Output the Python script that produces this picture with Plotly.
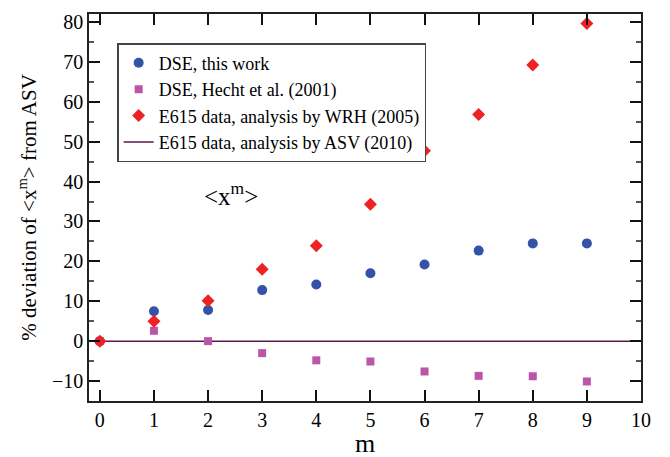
import plotly.graph_objects as go

m = [0, 1, 2, 3, 4, 5, 6, 7, 8, 9]
dse_this_work = [0.0, 7.5, 7.8, 12.8, 14.2, 17.0, 19.2, 22.7, 24.5, 24.5]
dse_hecht = [0.0, 2.6, 0.0, -3.0, -4.8, -5.1, -7.6, -8.7, -8.8, -10.1]
e615_wrh = [0.0, 5.0, 10.1, 18.0, 23.9, 34.3, 47.7, 56.8, 69.2, 79.6]
asv_level = 0.0

x_range = [-0.2, 10]
y_range = [-15, 82]

FONT = "Liberation Serif"

fig = go.Figure()

fig.add_trace(go.Scatter(
    x=x_range, y=[asv_level, asv_level], mode="lines",
    line=dict(color="#5a1848", width=1.5),
    name="E615 data, analysis by ASV (2010)", showlegend=False,
))
fig.add_trace(go.Scatter(
    x=m, y=dse_this_work, mode="markers", name="DSE, this work",
    marker=dict(symbol="circle", size=10, color="#3352a8"),
))
fig.add_trace(go.Scatter(
    x=m, y=dse_hecht, mode="markers", name="DSE, Hecht et al. (2001)",
    marker=dict(symbol="square", size=8, color="#bb55a8"),
))
fig.add_trace(go.Scatter(
    x=m, y=e615_wrh, mode="markers", name="E615 data, analysis by WRH (2005)",
    marker=dict(symbol="diamond", size=10, color="#ee2222"),
))
fig.add_trace(go.Scatter(
    x=[None], y=[None], mode="lines",
    line=dict(color="#5a1848", width=1.5),
    name="E615 data, analysis by ASV (2010)",
))

# in-plot label
fig.add_annotation(
    x=2.42, y=37, xref="x", yref="y",
    text="<x<sup>m</sup>>", showarrow=False,
    font=dict(family=FONT, size=25, color="black"),
)

# x-axis title
fig.add_annotation(
    x=0.5, y=0, xref="paper", yref="paper",
    xanchor="center", yanchor="top", yshift=-27,
    text="m", showarrow=False, borderpad=0,
    font=dict(family=FONT, size=26, color="black"),
)

axis_common = dict(
    showgrid=False, zeroline=False, automargin=False,
    showline=True, linecolor="#222222", linewidth=1.5,
    mirror="allticks", ticks="inside", ticklen=11, tickwidth=1.5,
    tickcolor="#111111",
    tickfont=dict(family=FONT, size=20, color="black"),
)

fig.update_xaxes(
    range=x_range, tickmode="linear", tick0=0, dtick=1,
    **axis_common,
)
fig.update_yaxes(
    range=y_range, tickmode="linear", tick0=0, dtick=10,
    minor=dict(dtick=5, tick0=0, ticklen=5, tickwidth=1.5, tickcolor="#555555", ticks="inside"),
    title=dict(text="% deviation of <x<sup>m</sup>> from ASV",
               font=dict(family=FONT, size=21, color="black"), standoff=10),
    **axis_common,
)

fig.update_layout(
    template="none",
    width=662, height=449,
    margin=dict(l=81, r=29, t=6, b=56, pad=0),
    font=dict(family=FONT, size=18, color="black"),
    paper_bgcolor="white", plot_bgcolor="white",
    legend=dict(
        x=0.051, y=0.925, xanchor="left", yanchor="top",
        bgcolor="white", bordercolor="#444444", borderwidth=1.5,
        font=dict(family=FONT, size=18, color="black"),
        tracegroupgap=0, itemwidth=30,
    ),
)

fig.write_html("out.html")
